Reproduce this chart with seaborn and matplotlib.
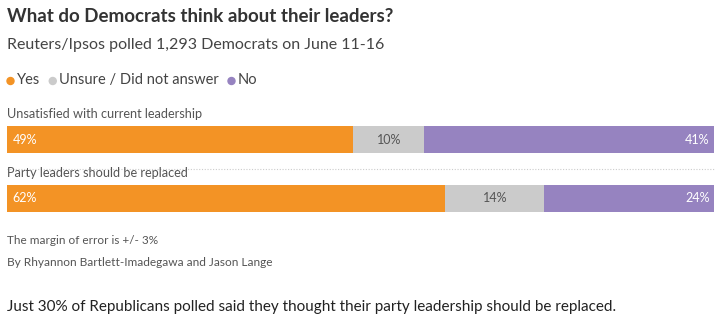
import matplotlib
matplotlib.use("Agg")
import matplotlib.pyplot as plt
import matplotlib.patches as mpatches
import seaborn as sns
import pandas as pd
import numpy as np

questions = ["Unsatisfied with current leadership", "Party leaders should be replaced"]
yes = [49, 62]
unsure = [10, 14]
no = [41, 24]
series_names = ["Yes", "Unsure / Did not answer", "No"]
colors = ["#F39325", "#CBCBCB", "#9683C0"]

sns.set_theme(style="white")
plt.rcParams['font.family'] = ['Lato', 'DejaVu Sans']

W, H = 719, 325
fig = plt.figure(figsize=(W/100, H/100), dpi=100)

def fx(px):
    return px / W

def fy(py):
    return 1 - py / H

ax = fig.add_axes([fx(7), fy(228), fx(707), 118 / H])

df = pd.DataFrame({"q": questions, "yes": yes, "unsure": unsure, "no": no})
df["c2"] = df["yes"] + df["unsure"]
df["c3"] = df["c2"] + df["no"]

bw = 27 / 59
sns.barplot(data=df, y="q", x="c3", color=colors[2], width=bw, ax=ax, orient="h", saturation=1, linewidth=0)
sns.barplot(data=df, y="q", x="c2", color=colors[1], width=bw, ax=ax, orient="h", saturation=1, linewidth=0)
sns.barplot(data=df, y="q", x="yes", color=colors[0], width=bw, ax=ax, orient="h", saturation=1, linewidth=0)

ax.set_xlim(0, 100)
ax.set_ylim(1.5, -0.5)
ax.axis("off")

for i, row in df.iterrows():
    ax.text(0.8, i, f"{row['yes']}%", color="white", va="center", ha="left", fontsize=9)
    ax.text(row["yes"] + row["unsure"] / 2, i, f"{row['unsure']}%", color="#555555", va="center", ha="center", fontsize=9)
    ax.text(99.4, i, f"{row['no']}%", color="white", va="center", ha="right", fontsize=9)
    ax.text(0, i - 0.43, row["q"], color="#555555", va="center", ha="left", fontsize=9.2)

# dotted separator
ax.plot([0, 100], [0.5, 0.5], color="#CCCCCC", linestyle=(0, (1, 1.5)), linewidth=0.8, clip_on=False)

# Titles
fig.text(fx(7), fy(17), "What do Democrats think about their leaders?", fontsize=13.5,
         fontweight="bold", color="#333333", va="center", ha="left")
fig.text(fx(7), fy(45), "Reuters/Ipsos polled 1,293 Democrats on June 11-16", fontsize=11.5,
         color="#444444", va="center", ha="left")

# Legend
lx = 7
for name, c in zip(series_names, colors):
    fig.patches.append(mpatches.Ellipse((fx(lx + 3.5), fy(81)), width=7 / W, height=7 / H, color=c,
                                        transform=fig.transFigure))
    t = fig.text(fx(lx + 10), fy(80), name, fontsize=10.5, color="#444444", va="center", ha="left")
    fig.canvas.draw()
    bb = t.get_window_extent()
    lx = bb.x1 + 9

fig.text(fx(7), fy(240), "The margin of error is +/- 3%", fontsize=8.5, color="#555555", va="center", ha="left")
fig.text(fx(7), fy(262), "By Rhyannon Bartlett-Imadegawa and Jason Lange", fontsize=8.6, color="#555555", va="center", ha="left")
fig.text(fx(7), fy(307), "Just 30% of Republicans polled said they thought their party leadership should be replaced.",
         fontsize=11, color="#222222", va="center", ha="left")

fig.savefig("out.png", dpi=100)
